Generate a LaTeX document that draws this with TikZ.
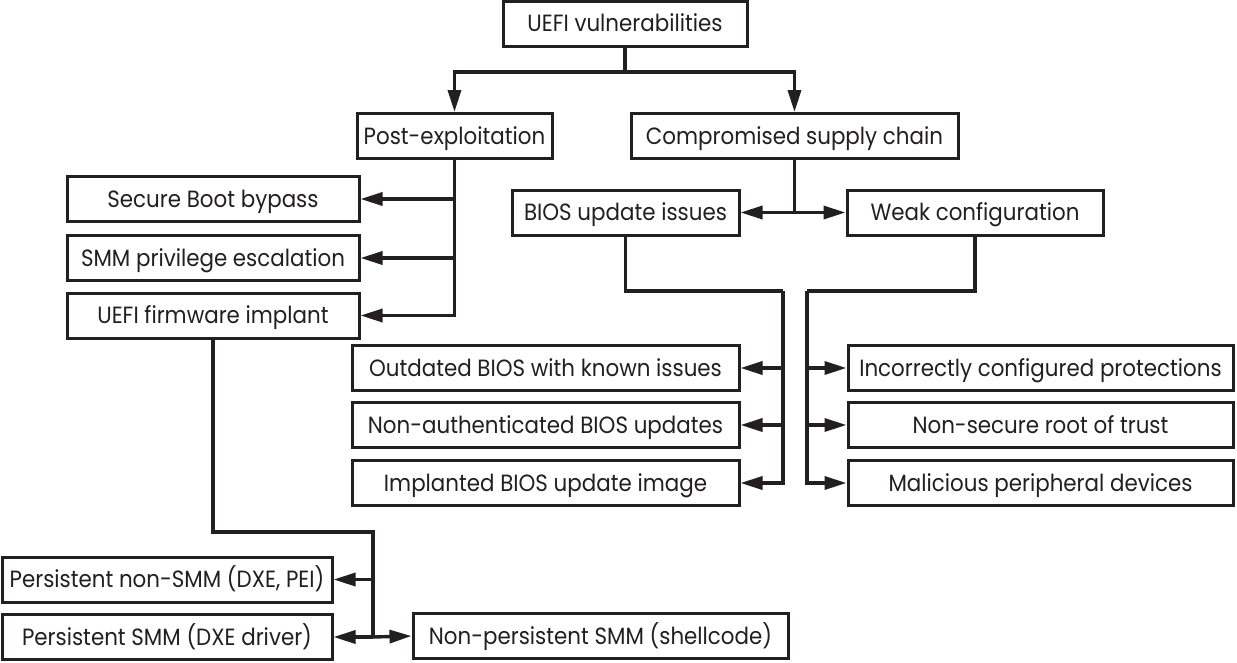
\documentclass[tikz,border=0pt]{standalone}
\usepackage{fontspec}
\setmainfont{Poppins}[FakeStretch=0.91]
\usetikzlibrary{arrows.meta}
\definecolor{ink}{HTML}{231F20}
\begin{document}
\begin{tikzpicture}[x=1pt,y=-1pt,
  box/.style={draw=ink, text=ink, line width=3pt, fill=white, inner sep=0pt,
    minimum width=#1, minimum height=45pt, anchor=center,
    text height=16.5pt, text depth=0pt,
    font=\fontsize{23.5}{26}\selectfont},
  wire/.style={draw=ink, line width=3.4pt, line join=miter},
  arr/.style={draw=ink, line width=3.4pt, line join=miter, -{Triangle[length=22pt,width=13pt]}}]
\useasboundingbox (0,0) rectangle (1237,662);
% boxes
\node[box=244pt] (top) at (625,23.5) {UEFI vulnerabilities};
\node[box=195pt] (post) at (454.5,136) {Post-exploitation};
\node[box=327pt] (comp) at (794.5,136) {Compromised supply chain};
\node[box=292pt] (sbb) at (213,199) {Secure Boot bypass};
\node[box=292pt] (smm) at (213,258) {SMM privilege escalation};
\node[box=292pt] (ufi) at (213,315.5) {UEFI firmware implant};
\node[box=227pt] (bios) at (625.5,212.5) {BIOS update issues};
\node[box=256pt] (weak) at (975,212.5) {Weak configuration};
\node[box=387pt] (out) at (545.5,368) {Outdated BIOS with known issues};
\node[box=387pt] (nauth) at (545.5,425) {Non-authenticated BIOS updates};
\node[box=387pt] (impl) at (545.5,483) {Implanted BIOS update image};
\node[box=385pt] (inc) at (1040.5,368) {Incorrectly configured protections};
\node[box=385pt] (nsr) at (1040.5,425) {Non-secure root of trust};
\node[box=385pt] (mal) at (1040.5,483) {Malicious peripheral devices};
\node[box=330pt] (pns) at (167,579.5) {Persistent non-SMM (DXE, PEI)};
\node[box=330pt] (psmm) at (167,637) {Persistent SMM (DXE driver)};
\node[box=375pt] (nps) at (600.5,636) {Non-persistent SMM (shellcode)};
% junction coordinates
\coordinate (j0) at (625,72);
\coordinate (j1) at (794.5,212.5);
\coordinate (j2) at (783,291);
\coordinate (j3) at (807,291);
\coordinate (j4) at (373,532);
\coordinate (j5) at (373,637);
% top split
\draw[wire] (top.south) -- (j0);
\draw[arr] (j0) -| (post.north);
\draw[arr] (j0) -| (comp.north);
% post-exploitation
\draw[arr] (post.south) |- (ufi.east);
\draw[arr] (post.south |- sbb.east) -- (sbb.east);
\draw[arr] (post.south |- smm.east) -- (smm.east);
% supply chain
\draw[wire] (comp.south) -- (j1);
\draw[arr] (j1) -- (bios.east);
\draw[arr] (j1) -- (weak.west);
% BIOS update issues
\draw[wire] (bios.south) |- (j2);
\draw[arr] (j2) |- (impl.east);
\draw[arr] (j2 |- out.east) -- (out.east);
\draw[arr] (j2 |- nauth.east) -- (nauth.east);
% weak configuration
\draw[wire] (weak.south) |- (j3);
\draw[arr] (j3) |- (mal.west);
\draw[arr] (j3 |- inc.west) -- (inc.west);
\draw[arr] (j3 |- nsr.west) -- (nsr.west);
% firmware implant
\draw[wire] (ufi.south) |- (j4) -- (j5);
\draw[arr] (j4 |- pns.east) -- (pns.east);
\draw[arr] (j5) -- (psmm.east);
\draw[arr] (j5) -- (nps.west);
\end{tikzpicture}
\end{document}
